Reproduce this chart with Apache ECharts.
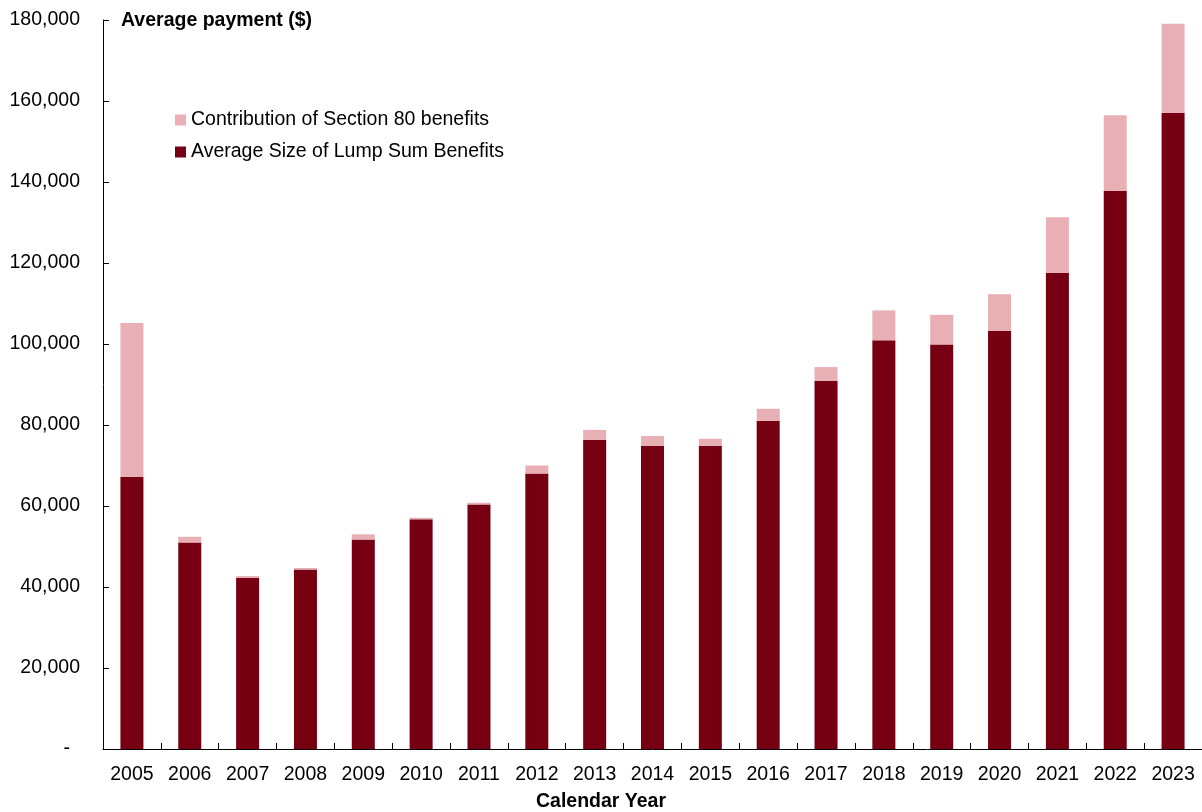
<!DOCTYPE html>
<html>
<head>
<meta charset="utf-8">
<title>Average payment</title>
<script src="https://cdn.jsdelivr.net/npm/echarts@6/dist/echarts.min.js"></script>
<style>
  html, body { margin: 0; padding: 0; background: #ffffff; }
  #chart { width: 1202px; height: 812px; }
</style>
</head>
<body>
<div id="chart"></div>
<script>
// Calendar years on the horizontal axis
const years = ['2005', '2006', '2007', '2008', '2009', '2010', '2011', '2012', '2013', '2014',
  '2015', '2016', '2017', '2018', '2019', '2020', '2021', '2022', '2023'];

// Average size of lump sum benefits ($)
const lumpSum = [67200, 51000, 42300, 44300, 51700, 56700, 60400, 68000, 76300, 74900,
  74900, 81000, 90900, 100900, 99900, 103300, 117600, 137800, 157100];

// Total average payment including Section 80 benefits ($)
const totalPayment = [105200, 52400, 42700, 44700, 53000, 57100, 60800, 70000, 78800, 77300,
  76600, 84000, 94300, 108300, 107200, 112300, 131300, 156500, 179100];

// Section 80 contribution = total minus lump sum
const section80 = totalPayment.map((t, i) => t - lumpSum[i]);

// Value axis ticks
const yMin = 0;
const yMax = 180000;
const yStep = 20000;

const FONT = '"Liberation Sans", Arial, sans-serif';
const DARK = '#760011';
const PINK = '#E8AFB4';

const chart = echarts.init(document.getElementById('chart'), null, { renderer: 'canvas' });

chart.setOption({
  backgroundColor: '#ffffff',
  animation: false,
  textStyle: { fontFamily: FONT, color: '#000000' },
  grid: { left: 103, top: 20, width: 1102, height: 729, containLabel: false },
  legend: {
    orient: 'vertical',
    left: 175,
    top: 110,
    padding: 0,
    itemWidth: 11,
    itemHeight: 11,
    itemGap: 12,
    icon: 'rect',
    data: ['Contribution of Section 80 benefits', 'Average Size of Lump Sum Benefits'],
    textStyle: { fontFamily: FONT, fontSize: 19.5, color: '#000000', lineHeight: 20 }
  },
  xAxis: {
    type: 'category',
    data: years,
    axisLine: { lineStyle: { color: '#000000', width: 1 } },
    axisTick: { show: true, inside: true, length: 6, lineStyle: { color: '#000000', width: 1 } },
    axisLabel: { interval: 0, margin: 16, fontFamily: FONT, fontSize: 19.5, color: '#000000' },
    splitLine: { show: false }
  },
  yAxis: {
    type: 'value',
    min: yMin,
    max: yMax,
    interval: yStep,
    axisLine: { show: true, lineStyle: { color: '#000000', width: 1 } },
    axisTick: { show: true, inside: true, length: 6, lineStyle: { color: '#000000' } },
    splitLine: { show: false },
    axisLabel: {
      margin: 23,
      fontFamily: FONT,
      fontSize: 19.5,
      color: '#000000',
      formatter: v => v === 0 ? '{z|-}' : v.toLocaleString('en-US'),
      rich: { z: { fontFamily: FONT, fontSize: 19.5, color: '#000000', padding: [0, 10, 0, 0] } }
    }
  },
  graphic: [
    {
      type: 'text',
      left: 121,
      top: 11,
      style: { text: 'Average payment ($)', font: 'bold 19.5px ' + FONT, fill: '#000000' }
    },
    {
      type: 'text',
      left: 'center',
      top: 792,
      x: -30,
      style: { text: 'Calendar Year', font: 'bold 19.5px ' + FONT, fill: '#000000', textAlign: 'center' }
    }
  ],
  series: [
    {
      name: 'Average Size of Lump Sum Benefits',
      type: 'bar',
      stack: 'payment',
      barWidth: 23,
      itemStyle: { color: DARK },
      data: lumpSum
    },
    {
      name: 'Contribution of Section 80 benefits',
      type: 'bar',
      stack: 'payment',
      barWidth: 23,
      itemStyle: { color: PINK },
      data: section80
    }
  ]
});
</script>
</body>
</html>
